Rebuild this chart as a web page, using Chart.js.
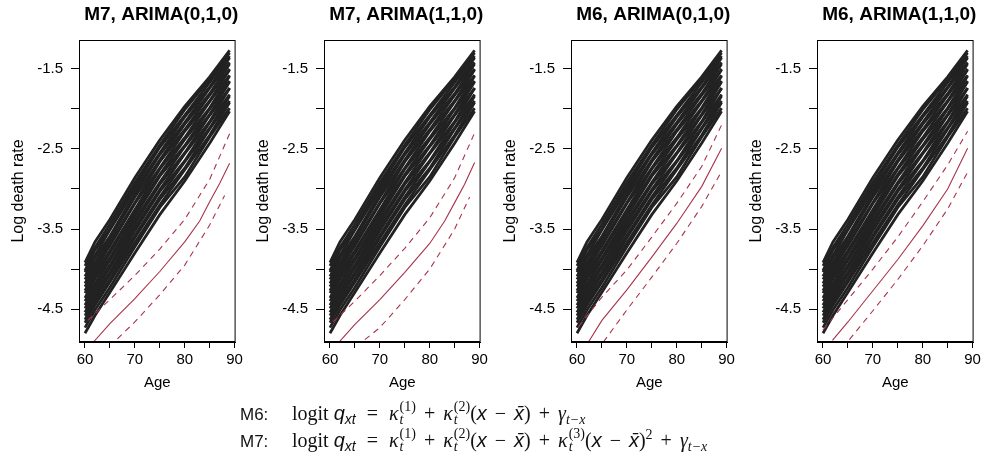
<!DOCTYPE html>
<html>
<head>
<meta charset="utf-8">
<script src="https://cdn.jsdelivr.net/npm/chart.js@4.4.1/dist/chart.umd.min.js"></script>
<style>
  body { margin: 0; background: #fff; width: 987px; height: 467px; overflow: hidden; position: relative; font-family: "Liberation Sans", Arial, sans-serif; }
  canvas.painel { position: absolute; top: 0; }
  #formula { position: absolute; left: 240px; top: 400px; font-size: 20px; color: #111; }
  #formula .row { height: 27px; white-space: nowrap; }
  #formula .lab { display: inline-block; width: 52px; font-size: 17px; font-family: "Liberation Sans", Arial, sans-serif; }
  #formula .srf { font-family: "Liberation Serif", "DejaVu Serif", serif; }
  #formula .it { font-style: italic; }
  #formula .sub { font-size: 14px; vertical-align: -4px; }
  #formula .op { margin: 0 8px; font-family: "Liberation Serif", "DejaVu Serif", serif; }
  #formula .eq { margin: 0 11px; font-family: "Liberation Serif", "DejaVu Serif", serif; }
  #formula .st { display: inline-flex; flex-direction: column; font-size: 14px; line-height: 13px; vertical-align: 9px; margin-left: 1px; font-family: "Liberation Serif", "DejaVu Serif", serif; }
  #formula .st span:last-child { font-style: italic; }
</style>
</head>
<body>
<canvas class="painel" id="painel0" width="246" height="400" style="left:0px"></canvas>
<canvas class="painel" id="painel1" width="246" height="400" style="left:245px"></canvas>
<canvas class="painel" id="painel2" width="246" height="400" style="left:492px"></canvas>
<canvas class="painel" id="painel3" width="246" height="400" style="left:738px"></canvas>

<div id="formula">
  <div class="row"><span class="lab">M6:</span><span class="srf">logit&nbsp;</span><span class="it">q</span><span class="sub it">xt</span><span class="eq">=</span><span class="srf it">κ</span><span class="st"><span>(1)</span><span>t</span></span><span class="op">+</span><span class="srf it">κ</span><span class="st"><span>(2)</span><span>t</span></span><span class="srf">(</span><span class="it">x</span><span class="op">−</span><span class="it">x̄</span><span class="srf">)</span><span class="op">+</span><span class="srf it">γ</span><span class="sub it srf">t−x</span></div>
  <div class="row"><span class="lab">M7:</span><span class="srf">logit&nbsp;</span><span class="it">q</span><span class="sub it">xt</span><span class="eq">=</span><span class="srf it">κ</span><span class="st"><span>(1)</span><span>t</span></span><span class="op">+</span><span class="srf it">κ</span><span class="st"><span>(2)</span><span>t</span></span><span class="srf">(</span><span class="it">x</span><span class="op">−</span><span class="it">x̄</span><span class="srf">)</span><span class="op">+</span><span class="srf it">κ</span><span class="st"><span>(3)</span><span>t</span></span><span class="srf">(</span><span class="it">x</span><span class="op">−</span><span class="it">x̄</span><span class="srf">)</span><sup class="srf" style="font-size:14px">2</sup><span class="op">+</span><span class="srf it">γ</span><span class="sub it srf">t−x</span></div>
</div>

<script>
// titulos dos paineis
const titulos = ["M7, ARIMA(0,1,0)", "M7, ARIMA(1,1,0)", "M6, ARIMA(0,1,0)", "M6, ARIMA(1,1,0)"];

// eixos
const ticksIdade = [60, 65, 70, 75, 80, 85, 90];
const rotulosIdade = [60, 70, 80, 90];
const ticksTaxa = [-1.5, -2, -2.5, -3, -3.5, -4, -4.5];
const rotulosTaxa = [-1.5, -2.5, -3.5, -4.5];

const idades = [60, 62, 65, 70, 75, 80, 85, 89];
const taxasObservadas = [
  [-3.92, -3.66, -3.38, -2.86, -2.39, -1.97, -1.60, -1.27],
  [-3.96, -3.73, -3.44, -2.92, -2.45, -2.01, -1.63, -1.30],
  [-4.02, -3.76, -3.50, -2.97, -2.48, -2.08, -1.67, -1.34],
  [-4.04, -3.83, -3.51, -3.01, -2.55, -2.10, -1.73, -1.36],
  [-4.09, -3.86, -3.59, -3.06, -2.57, -2.17, -1.74, -1.42],
  [-4.13, -3.92, -3.62, -3.10, -2.64, -2.19, -1.81, -1.44],
  [-4.18, -3.95, -3.67, -3.17, -2.66, -2.26, -1.83, -1.50],
  [-4.22, -4.00, -3.71, -3.18, -2.74, -2.28, -1.90, -1.51],
  [-4.27, -4.04, -3.77, -3.26, -2.75, -2.36, -1.91, -1.58],
  [-4.30, -4.09, -3.80, -3.29, -2.82, -2.38, -1.99, -1.59],
  [-4.36, -4.12, -3.86, -3.34, -2.84, -2.46, -2.00, -1.65],
  [-4.40, -4.18, -3.89, -3.39, -2.92, -2.47, -2.07, -1.66],
  [-4.45, -4.22, -3.95, -3.43, -2.94, -2.55, -2.08, -1.74],
  [-4.49, -4.27, -3.98, -3.48, -3.01, -2.56, -2.16, -1.74],
  [-4.54, -4.31, -4.04, -3.52, -3.03, -2.65, -2.17, -1.82],
  [-4.58, -4.36, -4.07, -3.58, -3.10, -2.66, -2.24, -1.84],
  [-4.63, -4.40, -4.13, -3.61, -3.13, -2.74, -2.25, -1.90],
  [-4.67, -4.45, -4.16, -3.67, -3.20, -2.76, -2.33, -1.92],
  [-4.73, -4.51, -4.23, -3.72, -3.23, -2.85, -2.35, -1.99],
  [-4.80, -4.58, -4.29, -3.80, -3.32, -2.90, -2.43, -2.03]
];

// previsoes: [idade, log taxa] -> mediana e limites
const m7a010Mediana = [[61.7, -4.91], [65, -4.68], [70, -4.37], [75, -4.03], [80, -3.66], [83, -3.40], [85, -3.16], [87, -2.93], [89, -2.68]];
const m7a010Sup = [[60.6, -4.64], [65, -4.38], [70, -4.08], [75, -3.75], [80, -3.38], [85, -2.88], [89, -2.31]];
const m7a010Inf = [[66.5, -4.87], [70, -4.66], [75, -4.32], [80, -3.95], [85, -3.45], [88, -3.08]];

const m7a110Mediana = [[62, -4.90], [65, -4.69], [70, -4.38], [75, -4.04], [80, -3.68], [83, -3.40], [85, -3.17], [87, -2.94], [89, -2.67]];
const m7a110Sup = [[60.6, -4.66], [65, -4.40], [70, -4.08], [75, -3.74], [80, -3.36], [85, -2.86], [89, -2.30]];
const m7a110Inf = [[67, -4.88], [70, -4.73], [75, -4.38], [80, -4.00], [85, -3.50], [88, -3.10]];

const m6a010Mediana = [[62.3, -4.91], [65, -4.64], [70, -4.26], [75, -3.85], [80, -3.43], [85, -2.97], [89, -2.49]];
const m6a010Sup = [[60.3, -4.72], [65, -4.35], [70, -4.01], [75, -3.60], [80, -3.18], [85, -2.72], [89, -2.20]];
const m6a010Inf = [[65.3, -4.91], [70, -4.51], [75, -4.10], [80, -3.68], [85, -3.22], [89, -2.78]];

const m6a110Mediana = [[61.9, -4.89], [65, -4.66], [70, -4.27], [75, -3.88], [80, -3.46], [85, -3.00], [89, -2.49]];
const m6a110Sup = [[60, -4.76], [65, -4.38], [70, -4.00], [75, -3.60], [80, -3.16], [85, -2.70], [89, -2.28]];
const m6a110Inf = [[65.3, -4.88], [70, -4.52], [75, -4.13], [80, -3.71], [85, -3.25], [89, -2.79]];

const previsoes = [
  [m7a010Mediana, m7a010Sup, m7a010Inf],
  [m7a110Mediana, m7a110Sup, m7a110Inf],
  [m6a010Mediana, m6a010Sup, m6a010Inf],
  [m6a110Mediana, m6a110Sup, m6a110Inf]
];

const corVermelha = "#a8334a";
const fonte = "'Liberation Sans', Arial, sans-serif";

// moldura em volta da area do grafico (estilo R) e titulo centrado nela
const moldura = {
  id: "moldura",
  afterDraw: function (chart, args, opts) {
    const a = chart.chartArea;
    const ctx = chart.ctx;
    ctx.save();
    ctx.strokeStyle = "#000";
    ctx.lineWidth = 1;
    ctx.strokeRect(a.left + 0.5, a.top + 0.5, a.right - a.left - 1, a.bottom - a.top - 1);
    ctx.fillStyle = "#000";
    ctx.font = "bold 19px " + fonte;
    ctx.textAlign = "center";
    ctx.textBaseline = "middle";
    ctx.fillText(opts.texto, (a.left + a.right) / 2 + 4, 15);
    ctx.restore();
  }
};

function pontos(pares) {
  return pares.map(function (p) { return { x: p[0], y: p[1] }; });
}

function montarPainel(i) {
  const ctx = document.getElementById("painel" + i).getContext("2d");
  const prev = previsoes[i];

  const datasets = [
    { data: pontos(prev[0]), borderColor: corVermelha, borderWidth: 1.1 },
    { data: pontos(prev[1]), borderColor: corVermelha, borderWidth: 1.1, borderDash: [6, 5] },
    { data: pontos(prev[2]), borderColor: corVermelha, borderWidth: 1.1, borderDash: [6, 5] }
  ];

  taxasObservadas.forEach(function (linha) {
    datasets.push({
      data: idades.map(function (a, k) { return { x: a, y: linha[k] }; }),
      borderColor: "#222222",
      borderWidth: 2.8
    });
  });

  datasets.forEach(function (d) {
    d.pointRadius = 0;
    d.tension = 0;
    d.fill = false;
  });

  new Chart(ctx, {
    type: "line",
    data: { datasets: datasets },
    plugins: [moldura],
    options: {
      responsive: false,
      animation: false,
      devicePixelRatio: 1,
      layout: { padding: { left: 0, right: 10, top: 40, bottom: 0 } },
      plugins: {
        legend: { display: false },
        tooltip: { enabled: false },
        title: { display: false },
        moldura: { texto: titulos[i] }
      },
      scales: {
        x: {
          type: "linear",
          min: 58.8,
          max: 90.2,
          afterBuildTicks: function (s) { s.ticks = ticksIdade.map(function (v) { return { value: v }; }); },
          afterFit: function (s) { s.height = 58; },
          ticks: {
            autoSkip: false,
            maxRotation: 0,
            padding: 3,
            color: "#000",
            font: { size: 15, family: fonte },
            callback: function (v) { return rotulosIdade.includes(v) ? String(v) : ""; }
          },
          grid: { drawOnChartArea: false, drawTicks: true, tickLength: 6, color: "#000" },
          border: { display: true, color: "#000" },
          title: {
            display: true,
            text: "Age",
            color: "#000",
            font: { size: 15, family: fonte },
            padding: { top: 8, bottom: 8 }
          }
        },
        y: {
          type: "linear",
          min: -4.91,
          max: -1.14,
          afterBuildTicks: function (s) { s.ticks = ticksTaxa.map(function (v) { return { value: v }; }); },
          afterFit: function (s) { s.width = 79; },
          ticks: {
            autoSkip: false,
            padding: 8,
            color: "#000",
            font: { size: 15, family: fonte },
            callback: function (v) { return rotulosTaxa.includes(v) ? v.toFixed(1) : ""; }
          },
          grid: { drawOnChartArea: false, drawTicks: true, tickLength: 8, color: "#000" },
          border: { display: true, color: "#000" },
          title: {
            display: true,
            text: "Log death rate",
            color: "#000",
            font: { size: 16, family: fonte },
            padding: { top: 9, bottom: 9 }
          }
        }
      }
    }
  });
}

for (let i = 0; i < 4; i++) {
  montarPainel(i);
}
</script>
</body>
</html>
